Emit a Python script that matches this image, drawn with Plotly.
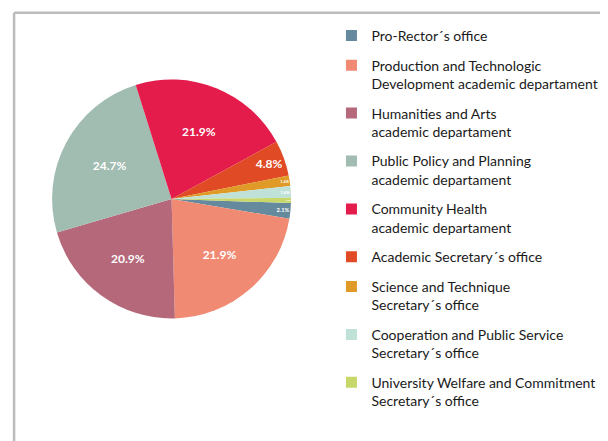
import plotly.graph_objects as go

labels = [
    "Pro-Rector´s office",
    "Production and Technologic<br>Development academic departament",
    "Humanities and Arts<br>academic departament",
    "Public Policy and Planning<br>academic departament",
    "Community Health<br>academic departament",
    "Academic Secretary´s office",
    "Science and Technique<br>Secretary´s office",
    "Cooperation and Public Service<br>Secretary´s office",
    "University Welfare and Commitment<br>Secretary´s office",
]
shares = [2.1, 21.9, 20.9, 24.7, 21.9, 4.8, 1.4, 1.6, 0.7]
colors = [
    "#658a9d", "#f08a73", "#b5687a", "#a1bcb1", "#e31c4b",
    "#e04a24", "#e09a27", "#bfe1d7", "#c7d76a",
]
label_sizes = [8, 12, 12, 12, 12, 12, 8, 8, 8]

FONT = "Lato, 'Open Sans', sans-serif"

fig = go.Figure()

fig.add_trace(go.Pie(
    labels=labels, values=shares, sort=False,
    direction="clockwise", rotation=92,
    marker=dict(colors=colors, line=dict(width=0)),
    texttemplate="%{value:.1f}%", textinfo="text",
    textposition="inside", insidetextorientation="horizontal",
    textfont=dict(family=FONT, color="white", size=label_sizes, weight="bold"),
    showlegend=False, hoverinfo="label+value",
    domain=dict(x=[0.0725, 0.4655], y=[0.296, 0.838]),
))

# legend entries as square markers, one group each so gaps can be set
for name, col in zip(labels, colors):
    fig.add_trace(go.Scatter(
        x=[None], y=[None], mode="markers", name=name,
        legendgroup=name,
        marker=dict(symbol="square", size=11, color=col),
    ))

fig.update_layout(
    width=608, height=441,
    margin=dict(l=0, r=0, t=0, b=0),
    paper_bgcolor="white", plot_bgcolor="white",
    font=dict(family=FONT, color="#1a1a1a", size=14),
    xaxis=dict(visible=False), yaxis=dict(visible=False),
    legend=dict(
        x=0.532, y=0.973, xanchor="left", yanchor="top",
        valign="top", itemsizing="trace", tracegroupgap=8.5,
        font=dict(size=14), bgcolor="rgba(0,0,0,0)",
    ),
    shapes=[
        dict(type="line", xref="paper", yref="paper", x0=0.01, x1=1, y0=0.9895, y1=0.9895,
             line=dict(color="#bbbbbb", width=2.5)),
        dict(type="line", xref="paper", yref="paper", x0=0.01, x1=0.01, y0=0, y1=0.9895,
             line=dict(color="#bbbbbb", width=2.5)),
    ],
)

fig.write_html("out.html")
